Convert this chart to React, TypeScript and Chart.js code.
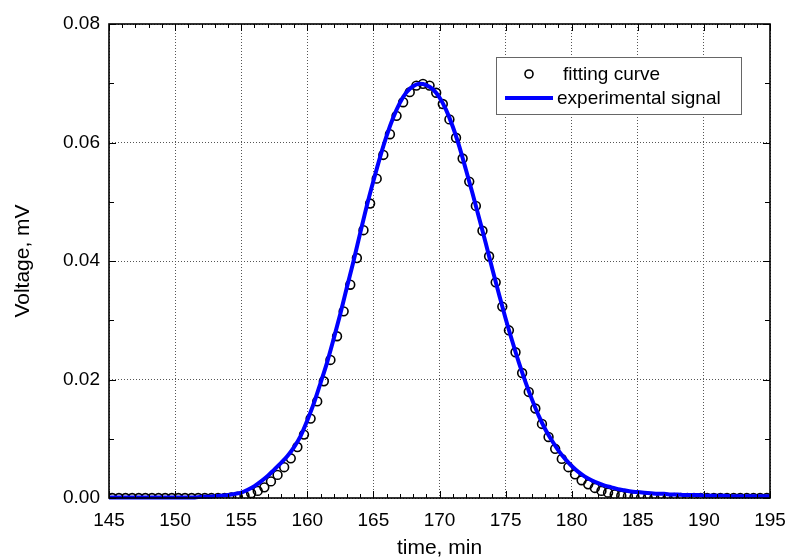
import React, { useEffect, useRef } from "react";
import { Chart, registerables } from "chart.js";

Chart.register(...registerables);

const fitTime = [
  145.25, 145.75, 146.25, 146.75, 147.25, 147.75, 148.25, 148.75, 149.25, 149.75,
  150.25, 150.75, 151.25, 151.75, 152.25, 152.75, 153.25, 153.75, 154.25, 154.75,
  155.25, 155.75, 156.25, 156.75, 157.25, 157.75, 158.25, 158.75, 159.25, 159.75,
  160.25, 160.75, 161.25, 161.75, 162.25, 162.75, 163.25, 163.75, 164.25, 164.75,
  165.25, 165.75, 166.25, 166.75, 167.25, 167.75, 168.25, 168.75, 169.25, 169.75,
  170.25, 170.75, 171.25, 171.75, 172.25, 172.75, 173.25, 173.75, 174.25, 174.75,
  175.25, 175.75, 176.25, 176.75, 177.25, 177.75, 178.25, 178.75, 179.25, 179.75,
  180.25, 180.75, 181.25, 181.75, 182.25, 182.75, 183.25, 183.75, 184.25, 184.75,
  185.25, 185.75, 186.25, 186.75, 187.25, 187.75, 188.25, 188.75, 189.25, 189.75,
  190.25, 190.75, 191.25, 191.75, 192.25, 192.75, 193.25, 193.75, 194.25, 194.75,
];

const fitVoltage = [
  0, 0, 0, 0, 0, 0, 0, 0, 0, 0,
  0, 0, 0, 0, 0, 0, 0, 0, 0.0001, 0.0002,
  0.0004, 0.0008, 0.0012, 0.0018, 0.0028, 0.0039, 0.0052, 0.0067, 0.0086, 0.0107,
  0.0134, 0.0163, 0.0197, 0.0233, 0.0273, 0.0315, 0.036, 0.0405, 0.0452, 0.0497,
  0.0539, 0.0579, 0.0614, 0.0645, 0.0668, 0.0685, 0.0696, 0.0699, 0.0696, 0.0684,
  0.0665, 0.0639, 0.0608, 0.0573, 0.0534, 0.0493, 0.0451, 0.0408, 0.0364, 0.0323,
  0.0283, 0.0246, 0.0211, 0.0179, 0.0151, 0.0125, 0.0103, 0.0083, 0.0066, 0.0052,
  0.004, 0.003, 0.0023, 0.0017, 0.0012, 0.0009, 0.0006, 0.0004, 0.0003, 0.0002,
  0.0001, 0, 0, 0, 0, 0, 0, 0, 0, 0,
  0, 0, 0, 0, 0, 0, 0, 0, 0, 0,
];

const expTime = [
  145, 145.5, 146, 146.5, 147, 147.5, 148, 148.5, 149, 149.5,
  150, 150.5, 151, 151.5, 152, 152.5, 153, 153.5, 154, 154.5,
  155, 155.5, 156, 156.5, 157, 157.5, 158, 158.5, 159, 159.5,
  160, 160.5, 161, 161.5, 162, 162.5, 163, 163.5, 164, 164.5,
  165, 165.5, 166, 166.5, 167, 167.5, 168, 168.5, 169, 169.5,
  170, 170.5, 171, 171.5, 172, 172.5, 173, 173.5, 174, 174.5,
  175, 175.5, 176, 176.5, 177, 177.5, 178, 178.5, 179, 179.5,
  180, 180.5, 181, 181.5, 182, 182.5, 183, 183.5, 184, 184.5,
  185, 185.5, 186, 186.5, 187, 187.5, 188, 188.5, 189, 189.5,
  190, 190.5, 191, 191.5, 192, 192.5, 193, 193.5, 194, 194.5,
  195,
];

const expVoltage = [
  0.0001, 0.0001, 0.0001, 0.0001, 0.0001, 0.0001, 0.0001, 0.0001, 0.0001, 0.0001,
  0.0001, 0.0001, 0.0001, 0.0001, 0.0002, 0.0002, 0.0003, 0.0004, 0.0005, 0.0007,
  0.0009, 0.0014, 0.002, 0.0028, 0.0037, 0.0048, 0.0059, 0.0071, 0.0086, 0.0105,
  0.0131, 0.016, 0.0194, 0.0229, 0.0269, 0.0311, 0.0356, 0.04, 0.0447, 0.0493,
  0.0535, 0.0575, 0.0611, 0.0642, 0.0667, 0.0685, 0.0695, 0.0699, 0.0697, 0.069,
  0.0676, 0.0655, 0.0627, 0.0593, 0.0554, 0.0514, 0.0472, 0.043, 0.0386, 0.0344,
  0.0303, 0.0265, 0.0229, 0.0196, 0.0166, 0.0139, 0.0116, 0.0097, 0.008, 0.0066,
  0.0054, 0.0044, 0.0036, 0.003, 0.0025, 0.0021, 0.0018, 0.0015, 0.0013, 0.0011,
  0.001, 0.0009, 0.0008, 0.0007, 0.0007, 0.0006, 0.0006, 0.0005, 0.0005, 0.0005,
  0.0004, 0.0004, 0.0004, 0.0004, 0.0003, 0.0003, 0.0003, 0.0003, 0.0003, 0.0003,
  0.0003,
];

const seriesLabels = ["fitting curve", "experimental signal"];
const xTitle = "time, min";
const yTitle = "Voltage, mV";

const FONT = "'Liberation Sans', Arial, sans-serif";

const framePlugin = {
  id: "frameTicks",
  afterDatasetsDraw(chart: any) {
    const ctx = chart.ctx;
    const { left, right, top, bottom } = chart.chartArea;
    const xs = chart.scales.x;
    const ys = chart.scales.y;
    ctx.save();
    ctx.strokeStyle = "#000";
    ctx.lineWidth = 1;
    ctx.beginPath();
    for (let v = xs.min; v <= xs.max + 1e-9; v += 1) {
      const px = Math.round(xs.getPixelForValue(v)) + 0.5;
      const len = Math.abs(v % 5) < 1e-6 ? 7 : 4;
      ctx.moveTo(px, bottom);
      ctx.lineTo(px, bottom - len);
      ctx.moveTo(px, top);
      ctx.lineTo(px, top + len);
    }
    for (let i = 0; i <= 8; i++) {
      const v = i * 0.01;
      const py = Math.round(ys.getPixelForValue(v)) + 0.5;
      const len = i % 2 === 0 ? 7 : 5;
      ctx.moveTo(left, py);
      ctx.lineTo(left + len, py);
      ctx.moveTo(right, py);
      ctx.lineTo(right - len, py);
    }
    ctx.stroke();
    ctx.lineWidth = 1.6;
    ctx.strokeRect(left, top, right - left, bottom - top);
    ctx.restore();
  },
  afterDraw(chart: any) {
    const ctx = chart.ctx;
    const ds = chart.data.datasets;
    ctx.save();
    const bx = 496, by = 57, bw = 245, bh = 57;
    ctx.fillStyle = "#fff";
    ctx.fillRect(bx, by, bw, bh);
    ctx.strokeStyle = "#666";
    ctx.lineWidth = 1;
    ctx.strokeRect(bx + 0.5, by + 0.5, bw, bh);
    ctx.font = `19px ${FONT}`;
    ctx.fillStyle = "#000";
    ctx.textBaseline = "middle";
    ctx.beginPath();
    ctx.arc(529, 74, 4, 0, Math.PI * 2);
    ctx.strokeStyle = "#000";
    ctx.lineWidth = 1.6;
    ctx.stroke();
    ctx.fillText(ds[1].label, 563, 75);
    ctx.beginPath();
    ctx.moveTo(505, 98);
    ctx.lineTo(553, 98);
    ctx.strokeStyle = "#0000ff";
    ctx.lineWidth = 4;
    ctx.stroke();
    ctx.fillText(ds[0].label, 557, 99);
    ctx.restore();
  },
};

export default function App() {
  const ref = useRef<HTMLCanvasElement>(null);
  useEffect(() => {
    if (!ref.current) return;
    const chart = new Chart(ref.current, {
      type: "scatter",
      data: {
        datasets: [
          {
            type: "line",
            label: seriesLabels[1],
            data: expTime.map((t, i) => ({ x: t, y: expVoltage[i] })),
            borderColor: "#0000ff",
            borderWidth: 4,
            pointRadius: 0,
            tension: 0.4,
            cubicInterpolationMode: "monotone",
            fill: false,
            order: 0,
            clip: 4,
          } as any,
          {
            type: "scatter",
            label: seriesLabels[0],
            data: fitTime.map((t, i) => ({ x: t, y: fitVoltage[i] })),
            borderColor: "#000",
            backgroundColor: "rgba(0,0,0,0)",
            pointRadius: 4.4,
            pointBorderWidth: 1.6,
            order: 1,
            clip: 0,
          } as any,
        ],
      },
      options: {
        responsive: false,
        animation: false,
        layout: { padding: { top: 24, right: 17, left: 0, bottom: 0 } },
        plugins: { legend: { display: false }, tooltip: { enabled: false } },
        scales: {
          x: {
            type: "linear",
            min: 145,
            max: 195,
            afterFit: (s: any) => {
              s.height = 60;
              s.paddingLeft = 0;
              s.paddingRight = 0;
            },
            ticks: {
              stepSize: 5,
              padding: 11,
              color: "#000",
              font: { family: FONT, size: 19 },
              callback: (v: any) => String(v),
            },
            grid: {
              color: "#555",
              lineWidth: 1,
              drawTicks: false,
            },
            border: { display: false, dash: [1, 2] } as any,
            title: {
              display: true,
              text: xTitle,
              color: "#000",
              font: { family: FONT, size: 21, lineHeight: 0.9 },
              padding: { top: 0, bottom: 0 },
            },
          },
          y: {
            type: "linear",
            min: 0,
            max: 0.08,
            afterFit: (s: any) => {
              s.width = 109;
              s.paddingTop = 0;
              s.paddingBottom = 0;
            },
            ticks: {
              stepSize: 0.02,
              padding: 9,
              color: "#000",
              font: { family: FONT, size: 19 },
              callback: (v: any) => Number(v).toFixed(2),
            },
            grid: {
              color: "#555",
              lineWidth: 1,
              drawTicks: false,
            },
            border: { display: false, dash: [1, 2] } as any,
            title: {
              display: true,
              text: yTitle,
              color: "#000",
              font: { family: FONT, size: 21 },
              padding: { top: 11, bottom: 0 },
            },
          },
        },
      },
      plugins: [framePlugin],
    } as any);
    return () => chart.destroy();
  }, []);
  return (
    <div style={{ position: "absolute", left: 0, top: 0, width: 787, height: 558, background: "#fff" }}>
      <canvas ref={ref} width={787} height={558} style={{ display: "block" }} />
    </div>
  );
}
